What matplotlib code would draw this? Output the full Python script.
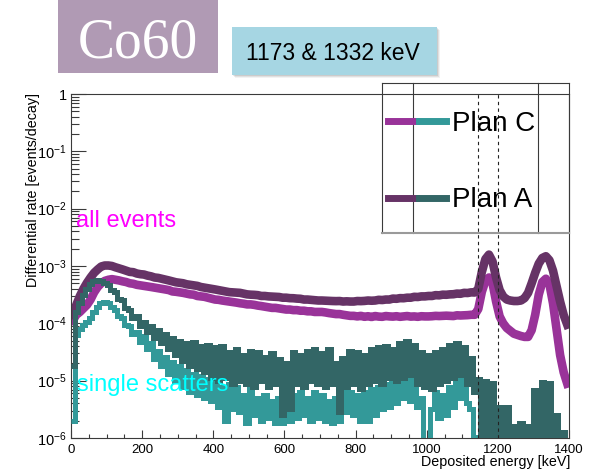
import numpy as np
import matplotlib
matplotlib.use("Agg")
import matplotlib.pyplot as plt
from matplotlib.patches import Rectangle
from matplotlib.lines import Line2D
from matplotlib.legend_handler import HandlerTuple
from matplotlib.ticker import FixedLocator, FuncFormatter, NullFormatter

plt.rcParams["font.family"] = ["Liberation Sans", "DejaVu Sans"]
plt.rcParams["mathtext.fontset"] = "custom"
plt.rcParams["mathtext.rm"] = "Liberation Sans"
plt.rcParams["mathtext.it"] = "Liberation Sans:italic"
plt.rcParams["mathtext.bf"] = "Liberation Sans:bold"

# Energy binning in keV (10 keV bins from 0 to 1400 keV)
bin_edges = np.arange(0, 1401, 10)
bin_centers = bin_edges[:-1] + 5

# Rates per bin, in units of 1e-4 events/decay
RATE_UNIT = 1e-4

plan_c_all = [
    1.12, 1.41, 1.58, 1.82, 2.1, 2.6, 3.47, 4.3, 5.0, 5.5,
    5.75, 5.9, 5.75, 5.6, 5.4, 5.25, 5.0, 4.9, 4.7, 4.6,
    4.5, 4.4, 4.3, 4.2, 4.1, 4.0, 3.9, 3.8, 3.6, 3.55,
    3.47, 3.4, 3.3, 3.2, 3.16, 3.0, 2.95, 2.9, 2.8, 2.7,
    2.6, 2.57, 2.5, 2.45, 2.4, 2.35, 2.3, 2.24, 2.2, 2.14,
    2.14, 2.1, 2.04, 2.0, 1.95, 1.9, 1.86, 1.86, 1.82, 1.78,
    1.74, 1.74, 1.7, 1.7, 1.66, 1.66, 1.62, 1.62, 1.58, 1.58,
    1.58, 1.55, 1.51, 1.48, 1.45, 1.45, 1.41, 1.38, 1.35, 1.35,
    1.32, 1.35, 1.30, 1.33, 1.29, 1.34, 1.31, 1.30, 1.34, 1.32,
    1.31, 1.33, 1.30, 1.32, 1.34, 1.31, 1.32, 1.30, 1.33, 1.32,
    1.32, 1.33, 1.35, 1.34, 1.35, 1.36, 1.35, 1.34, 1.38, 1.37,
    1.38, 1.39, 1.41, 1.41, 1.78, 3.55, 5.5, 6.3, 5.0, 2.4,
    1.32, 1.0, 0.83, 0.74, 0.66, 0.63, 0.60, 0.58, 0.58, 0.76,
    1.41, 3.16, 5.25, 6.0, 4.8, 2.24, 0.79, 0.28, 0.14, 0.089,
]

plan_a_all = [
    1.4, 2.1, 3.0, 4.0, 5.1, 6.3, 7.6, 8.7, 9.8, 10.2,
    10.2, 10.0, 9.5, 9.1, 8.7, 8.3, 7.9, 7.8, 7.4, 7.2,
    7.1, 6.8, 6.6, 6.3, 6.2, 6.0, 5.8, 5.6, 5.4, 5.2,
    5.1, 5.0, 4.8, 4.7, 4.6, 4.5, 4.3, 4.2, 4.1, 4.0,
    3.9, 3.8, 3.7, 3.6, 3.5, 3.47, 3.45, 3.4, 3.3, 3.2,
    3.16, 3.14, 3.1, 3.0, 3.0, 2.95, 2.93, 2.9, 2.88, 2.8,
    2.8, 2.75, 2.74, 2.7, 2.68, 2.6, 2.6, 2.57, 2.55, 2.5,
    2.5, 2.48, 2.45, 2.45, 2.44, 2.45, 2.4, 2.42, 2.4, 2.4,
    2.45, 2.44, 2.46, 2.5, 2.48, 2.5, 2.57, 2.55, 2.6, 2.6,
    2.7, 2.68, 2.75, 2.74, 2.8, 2.8, 2.9, 2.88, 2.95, 2.95,
    3.0, 3.0, 3.1, 3.08, 3.16, 3.15, 3.2, 3.22, 3.3, 3.28,
    3.4, 3.38, 3.47, 3.45, 4.0, 7.9, 13.2, 15.8, 12.0, 6.3,
    3.8, 2.95, 2.6, 2.5, 2.45, 2.45, 2.5, 2.75, 3.4, 5.0,
    7.6, 11.0, 13.8, 14.8, 12.6, 8.3, 4.5, 2.4, 1.4, 0.95,
]

plan_c_single = [
    0.02, 0.63, 0.79, 0.95, 1.05, 1.26, 1.58, 1.9, 2.3, 2.4,
    2.3, 1.9, 1.74, 1.32, 1.26, 0.95, 0.89, 0.66, 0.71, 0.48,
    0.60, 0.355, 0.447, 0.24, 0.33, 0.178, 0.263, 0.132, 0.209, 0.10,
    0.178, 0.079, 0.151, 0.063, 0.132, 0.056, 0.12, 0.05, 0.105, 0.045,
    0.10, 0.035, 0.079, 0.02, 0.089, 0.032, 0.079, 0.028, 0.056, 0.018,
    0.071, 0.025, 0.05, 0.02, 0.056, 0.022, 0.045, 0.018, 0.05, 0.018,
    0.045, 0.02, 0.056, 0.022, 0.063, 0.025, 0.05, 0.02, 0.063, 0.022,
    0.056, 0.02, 0.045, 0.018, 0.05, 0.02, 0.071, 0.028, 0.063, 0.025,
    0.056, 0.02, 0.063, 0.02, 0.071, 0.025, 0.079, 0.032, 0.089, 0.035,
    0.10, 0.04, 0.141, 0.05, 0.141, 0.045, 0.112, 0.035, 0.05, 0.0,
    0.0, 0.032, 0.063, 0.022, 0.056, 0.025, 0.079, 0.035, 0.132, 0.05,
    0.141, 0.04, 0.032, 0.0, 0.0105, 0.0, 0.0105, 0.0, 0.0105, 0.0,
    0.0105, 0.0, 0.0105, 0.0, 0.0105, 0.0, 0.0105, 0.0, 0.0105, 0.0,
    0.0105, 0.0, 0.0105, 0.0, 0.0105, 0.0, 0.0105, 0.0, 0.0105, 0.0,
]

plan_a_single = [
    0.178, 1.58, 2.24, 3.16, 3.98, 4.79, 5.37, 5.62, 5.50, 5.13,
    4.57, 3.80, 3.47, 2.63, 2.51, 1.82, 1.74, 1.26, 1.32, 0.89,
    1.05, 0.71, 0.89, 0.56, 0.76, 0.447, 0.66, 0.355, 0.56, 0.28,
    0.50, 0.224, 0.447, 0.178, 0.479, 0.158, 0.398, 0.141, 0.417, 0.112,
    0.38, 0.10, 0.398, 0.112, 0.316, 0.089, 0.355, 0.10, 0.28, 0.089,
    0.33, 0.079, 0.316, 0.10, 0.263, 0.079, 0.30, 0.089, 0.24, 0.025,
    0.20, 0.032, 0.316, 0.089, 0.28, 0.079, 0.33, 0.10, 0.355, 0.089,
    0.30, 0.079, 0.355, 0.089, 0.20, 0.028, 0.25, 0.079, 0.33, 0.089,
    0.316, 0.071, 0.28, 0.089, 0.355, 0.10, 0.38, 0.089, 0.398, 0.112,
    0.355, 0.10, 0.447, 0.112, 0.50, 0.126, 0.417, 0.089, 0.316, 0.079,
    0.28, 0.071, 0.316, 0.089, 0.355, 0.10, 0.417, 0.112, 0.447, 0.126,
    0.38, 0.089, 0.25, 0.063, 0.105, 0.0, 0.10, 0.0, 0.091, 0.0,
    0.035, 0.0, 0.035, 0.0, 0.016, 0.0, 0.018, 0.0, 0.016, 0.0,
    0.069, 0.0, 0.095, 0.0, 0.091, 0.0, 0.025, 0.0, 0.0126, 0.0,
]

# Energy window markers (keV)
window_edges = [1145, 1201]

# Axis ticks
x_major = np.arange(0, 1401, 200)
x_minor = np.arange(0, 1401, 50)
y_decades = [1e-6, 1e-5, 1e-4, 1e-3, 1e-2, 1e-1, 1.0]

series_labels = ["Plan C", "Plan A"]

COL_C_ALL = "#993399"
COL_A_ALL = "#663366"
COL_C_SS = "#339999"
COL_A_SS = "#336666"
FRAME = "#3a3a3a"

W, H = 591, 471
fig = plt.figure(figsize=(W / 100, H / 100), dpi=100)
fig.patch.set_facecolor("white")


def fx(x):
    return x / W


def fy(y):
    return 1 - y / H


ax = fig.add_axes([fx(71), fy(438), (569 - 71) / W, (438 - 94) / H])

# All-event spectra (fine binning -> drawn as a continuous thick trace)
ax.plot(bin_centers, np.array(plan_c_all) * RATE_UNIT, color=COL_C_ALL, lw=6.2,
        solid_joinstyle="round", zorder=2)
ax.plot(bin_centers, np.array(plan_a_all) * RATE_UNIT, color=COL_A_ALL, lw=6.2,
        solid_joinstyle="round", zorder=2)
# Single-scatter spectra as step histograms
ax.stairs(np.array(plan_c_single) * RATE_UNIT, bin_edges, color=COL_C_SS, lw=3.6,
          baseline=None, zorder=3)
ax.stairs(np.array(plan_a_single) * RATE_UNIT, bin_edges, color=COL_A_SS, lw=3.6,
          baseline=None, zorder=3)

for e in window_edges:
    ax.axvline(e, color="#222222", lw=0.8, ls=(0, (3, 3)), zorder=4)

ax.set_xlim(0, 1400)
ax.set_yscale("log")
ax.set_ylim(1e-6, 1)

ax.xaxis.set_major_locator(FixedLocator(x_major))
ax.xaxis.set_minor_locator(FixedLocator(x_minor))
ax.yaxis.set_major_locator(FixedLocator(y_decades))
y_minor = [m * d for d in y_decades[:-1] for m in range(2, 10)]
ax.yaxis.set_minor_locator(FixedLocator(y_minor))
ax.yaxis.set_minor_formatter(NullFormatter())
ax.xaxis.set_minor_formatter(NullFormatter())


def decade_label(v, pos):
    e = int(round(np.log10(v)))
    return "1" if e == 0 else r"$10^{%d}$" % e


ax.yaxis.set_major_formatter(FuncFormatter(decade_label))
ax.xaxis.set_major_formatter(FuncFormatter(lambda v, pos: "%d" % v))

ax.tick_params(which="both", direction="in", top=False, right=False, color=FRAME, width=0.8)
ax.tick_params(axis="y", which="major", length=10.8, labelsize=10.5, pad=3)
ax.tick_params(axis="y", which="minor", length=5.4)
ax.tick_params(axis="x", which="major", length=5.8, labelsize=9.5, pad=4)
ax.tick_params(axis="x", which="minor", length=2.9)
for s in ax.spines.values():
    s.set_color(FRAME)
    s.set_linewidth(0.8)

ax.text(0.010, 0.614, "all events", transform=ax.transAxes, color="#ff00ff",
        fontsize=17, va="baseline", zorder=10)
ax.text(0.0115, 0.1366, "single scatters", transform=ax.transAxes, color="#00ffff",
        fontsize=17, va="baseline", zorder=10)

fig.text(fx(33), fy(93), "Differential rate [events/decay]", rotation=90,
         ha="center", va="top", fontsize=10.3)
fig.text(fx(570), fy(466), "Deposited energy [keV]", ha="right", va="baseline", fontsize=10.3)

# Title boxes
fig.add_artist(Rectangle((fx(58), fy(73)), 160 / W, 73 / H, transform=fig.transFigure,
                         facecolor="#b09ab4", edgecolor="none"))
fig.text(fx(137.5), fy(43), "Co60", family="Liberation Serif", fontsize=40,
         color="white", ha="center", va="center")

for i, a in enumerate([0.05, 0.07, 0.09]):
    off = 3 - i
    fig.add_artist(Rectangle((fx(231.7 + off), fy(75 + off)), 205 / W, 48.3 / H,
                             transform=fig.transFigure, facecolor="black", alpha=a,
                             edgecolor="none"))
fig.add_artist(Rectangle((fx(231.7), fy(75)), 205 / W, 48.3 / H, transform=fig.transFigure,
                         facecolor="#a6d6e3", edgecolor="none"))
fig.text(fx(333), fy(53), "1173 & 1332 keV", fontsize=16.5, ha="center", va="center")

# Legend with paired line samples (all events, single scatters)
handles = [
    (Line2D([], [], color=COL_C_ALL, lw=5), Line2D([], [], color=COL_C_SS, lw=5)),
    (Line2D([], [], color=COL_A_ALL, lw=5), Line2D([], [], color=COL_A_SS, lw=5)),
]
fig.legend(handles, series_labels, handler_map={tuple: HandlerTuple(ndivide=None, pad=0.11)},
           loc="upper left", bbox_to_anchor=(fx(388), fy(111)), frameon=False, fontsize=20,
           handlelength=2.1, handletextpad=0.22, labelspacing=1.81, borderpad=0,
           borderaxespad=0)

# Legend frame
frame_segments = [
    ((382, 83), (569, 83)), ((382, 83), (382, 233)), ((569, 83), (569, 233)),
    ((413, 83), (413, 233)), ((538, 83), (538, 233)),
]
for (x0, y0), (x1, y1) in frame_segments:
    fig.add_artist(Line2D([fx(x0), fx(x1)], [fy(y0), fy(y1)], transform=fig.transFigure,
                          color=FRAME, lw=0.8))
fig.add_artist(Line2D([fx(382), fx(569)], [fy(233), fy(233)], transform=fig.transFigure,
                      color="#9a9a9a", lw=1.5))

fig.savefig("out.png", dpi=100)
